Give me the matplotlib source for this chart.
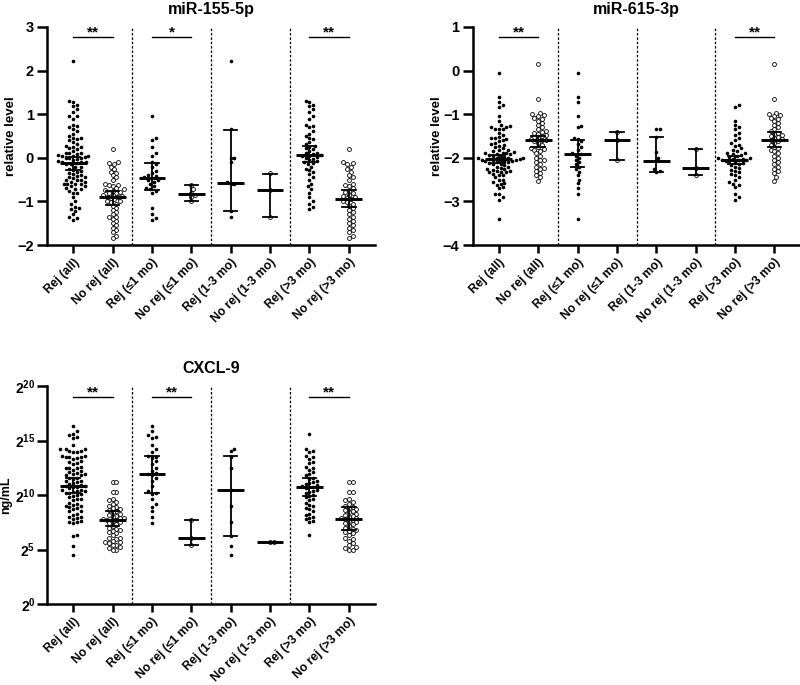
import numpy as np
import matplotlib
matplotlib.use("Agg")
import matplotlib.pyplot as plt
from matplotlib.ticker import FixedLocator, NullLocator

plt.rcParams['font.family'] = ['Liberation Sans', 'DejaVu Sans']
plt.rcParams['font.weight'] = 'bold'
plt.rcParams['mathtext.fontset'] = 'custom'
plt.rcParams['mathtext.rm'] = 'Liberation Sans:bold'
plt.rcParams['mathtext.bf'] = 'Liberation Sans:bold'

groups = ["Rej (all)", "No rej (all)", "Rej (\u22641 mo)", "No rej (\u22641 mo)",
          "Rej (1-3 mo)", "No rej (1-3 mo)", "Rej (>3 mo)", "No rej (>3 mo)"]

# ---- miR-155-5p (relative level) ----
mir155_rej_le1 = [0.95, 0.45, 0.4, 0.25, 0.1, 0.05, -0.1, -0.15, -0.2, -0.3, -0.35, -0.4,
                  -0.42, -0.45, -0.47, -0.5, -0.52, -0.55, -0.6, -0.65, -0.7, -0.72, -0.75,
                  -0.8, -1.15, -1.3, -1.38, -1.42]
mir155_norej_le1 = [-0.63, -0.72, -0.8, -0.85, -0.9, -1.0]
mir155_rej_13 = [2.23, 0.67, 0.0, 0.0, -0.1, -0.55, -0.6, -0.6, -1.22, -1.35]
mir155_norej_13 = [-0.35, -0.73, -1.35]
mir155_rej_gt3 = [1.3, 1.28, 1.22, 1.18, 1.12, 1.05, 0.95, 0.88, 0.76, 0.74, 0.7, 0.62, 0.55,
                  0.5, 0.45, 0.42, 0.36, 0.32, 0.28, 0.25, 0.22, 0.2, 0.15, 0.12, 0.1, 0.08,
                  0.06, 0.05, 0.04, 0.02, 0.0, -0.02, -0.05, -0.08, -0.1, -0.12, -0.15, -0.2,
                  -0.25, -0.28, -0.32, -0.38, -0.45, -0.52, -0.6, -0.65, -0.72, -0.8, -0.9,
                  -0.98, -1.05, -1.12, -1.18]
mir155_norej_gt3 = [0.2, -0.1, -0.12, -0.15, -0.2, -0.25, -0.32, -0.4, -0.45, -0.5, -0.6,
                    -0.62, -0.65, -0.7, -0.75, -0.78, -0.8, -0.85, -0.88, -0.9, -0.93, -0.95,
                    -1.0, -1.02, -1.05, -1.1, -1.15, -1.2, -1.25, -1.3, -1.35, -1.4, -1.45,
                    -1.5, -1.55, -1.6, -1.65, -1.7, -1.8, -1.85]
mir155_med = [-0.13, -0.89, -0.47, -0.84, -0.57, -0.73, 0.06, -0.94]
mir155_hi = [0.02, -0.76, -0.13, -0.63, 0.63, -0.36, 0.27, -0.74]
mir155_lo = [-0.28, -1.08, -0.74, -1.0, -1.22, -1.35, -0.09, -1.12]
mir155_sig = [(0, 1, "**"), (2, 3, "*"), (6, 7, "**")]

# ---- miR-615-3p (relative level) ----
mir615_rej_le1 = [-0.06, -0.6, -0.72, -1.05, -1.27, -1.3, -1.55, -1.58, -1.62, -1.68, -1.75,
                  -1.82, -1.88, -1.92, -1.95, -2.0, -2.05, -2.1, -2.15, -2.2, -2.25, -2.32,
                  -2.4, -2.5, -2.58, -2.7, -2.82, -3.4]
mir615_norej_le1 = [-1.41, -1.6, -2.06]
mir615_rej_13 = [-1.33, -1.35, -1.53, -1.87, -2.0, -2.08, -2.25, -2.3, -2.33]
mir615_norej_13 = [-1.79, -2.24, -2.4]
mir615_rej_gt3 = [-0.8, -0.84, -1.15, -1.25, -1.3, -1.35, -1.42, -1.48, -1.55, -1.6, -1.65,
                  -1.7, -1.72, -1.78, -1.82, -1.85, -1.88, -1.9, -1.92, -1.94, -1.96, -1.98,
                  -2.0, -2.01, -2.02, -2.03, -2.04, -2.05, -2.06, -2.07, -2.08, -2.1, -2.12,
                  -2.14, -2.16, -2.2, -2.23, -2.27, -2.3, -2.33, -2.37, -2.4, -2.45, -2.5,
                  -2.55, -2.6, -2.62, -2.68, -2.82, -2.9, -2.96]
mir615_norej_gt3 = [0.15, -0.64, -0.97, -1.0, -1.02, -1.05, -1.08, -1.1, -1.15, -1.2, -1.25,
                    -1.3, -1.35, -1.38, -1.42, -1.45, -1.48, -1.5, -1.53, -1.55, -1.58, -1.6,
                    -1.62, -1.65, -1.7, -1.75, -1.78, -1.82, -1.85, -1.9, -1.95, -2.0, -2.05,
                    -2.1, -2.15, -2.2, -2.25, -2.3, -2.35, -2.45, -2.53]
mir615_med = [-2.03, -1.6, -1.92, -1.6, -2.08, -2.24, -2.05, -1.59]
mir615_hi = [-1.93, -1.49, -1.6, -1.41, -1.53, -1.79, -1.95, -1.4]
mir615_lo = [-2.13, -1.76, -2.21, -2.06, -2.33, -2.4, -2.14, -1.76]
mir615_sig = [(0, 1, "**"), (6, 7, "**")]

# ---- CXCL-9 (log2 of ng/mL) ----
cxcl9_rej_le1 = [16.3, 15.9, 15.5, 15.3, 15.2, 14.6, 14.2, 13.9, 13.6, 13.5, 13.4, 13.1,
                 12.8, 12.5, 12.2, 12.0, 11.9, 11.8, 11.6, 11.3, 10.8, 10.4, 10.2, 10.1,
                 9.6, 9.2, 8.9, 8.5, 8.0, 7.4]
cxcl9_norej_le1 = [5.46, 6.07, 7.74]
cxcl9_rej_13 = [14.2, 14.0, 13.5, 12.5, 10.43, 9.0, 7.5, 6.22, 5.3, 4.5]
cxcl9_norej_13 = [5.7, 5.7]
cxcl9_rej_gt3 = [15.6, 14.2, 14.0, 13.9, 13.6, 13.5, 13.3, 13.0, 12.9, 12.6, 12.5, 12.3,
                 12.1, 11.9, 11.8, 11.6, 11.5, 11.3, 11.2, 11.1, 11.0, 10.9, 10.8, 10.75,
                 10.7, 10.6, 10.5, 10.4, 10.3, 10.2, 10.0, 9.9, 9.8, 9.6, 9.5, 9.3, 9.1,
                 9.0, 8.8, 8.7, 8.5, 8.3, 8.2, 8.0, 7.9, 7.8, 7.6, 7.5, 6.3]
cxcl9_norej_gt3 = [11.2, 11.2, 10.3, 10.3, 9.6, 9.5, 9.4, 9.2, 9.0, 8.9, 8.8, 8.7, 8.6,
                   8.5, 8.4, 8.3, 8.2, 8.1, 8.0, 7.9, 7.85, 7.8, 7.7, 7.6, 7.5, 7.4, 7.3,
                   7.2, 7.0, 6.9, 6.8, 6.7, 6.6, 6.5, 6.3, 6.1, 6.0, 5.8, 5.6, 5.4, 5.2,
                   5.1, 5.0, 5.0]
cxcl9_med = [10.85, 7.68, 11.92, 6.07, 10.43, 5.7, 10.7, 7.84]
cxcl9_hi = [11.55, 8.5, 13.54, 7.74, 13.54, 5.7, 11.55, 8.87]
cxcl9_lo = [10.18, 7.13, 10.18, 5.46, 6.22, 5.7, 9.88, 6.83]
cxcl9_sig = [(0, 1, "**"), (2, 3, "**"), (6, 7, "**")]


def make_sets(rej_le1, norej_le1, rej_13, norej_13, rej_gt3, norej_gt3):
    rej_all = rej_le1 + rej_13 + rej_gt3
    norej_all = norej_le1 + norej_13 + norej_gt3
    return [rej_all, norej_all, rej_le1, norej_le1, rej_13, norej_13, rej_gt3, norej_gt3]


def swarm_offsets(ax, x0, vals, diam):
    # greedy beeswarm in pixel space
    pts = ax.transData.transform(np.column_stack([np.full(len(vals), x0), vals]))
    ypix = pts[:, 1]
    order = np.argsort(ypix)
    placed = []
    xoff = np.zeros(len(vals))
    for i in order:
        k = 0
        while True:
            cands = [0.0] if k == 0 else [k * diam * 0.5, -k * diam * 0.5]
            ok = None
            for c in cands:
                if all((c - px) ** 2 + (ypix[i] - py) ** 2 >= diam ** 2 for px, py in placed):
                    ok = c
                    break
            if ok is not None:
                xoff[i] = ok
                placed.append((ok, ypix[i]))
                break
            k += 1
    px_per_unit = ax.transData.transform((1, 0))[0] - ax.transData.transform((0, 0))[0]
    return xoff / px_per_unit


def draw_panel(ax, title, sets, med, lo, hi, sig, ylim, sig_y, star_y, log2=False):
    ax.set_xlim(-0.66, 7.67)
    if log2:
        ax.set_yscale('log', base=2)
    ax.set_ylim(*ylim)
    for i, vals in enumerate(sets):
        v = np.array(vals, dtype=float)
        if log2:
            v = 2.0 ** v
        off = swarm_offsets(ax, i, v, 3.8)
        if i % 2 == 0:
            ax.plot(i + off, v, 'o', ms=2.6, color='black', mew=0, zorder=3)
        else:
            ax.plot(i + off, v, 'o', ms=2.8, mfc='white', mec='black', mew=0.6, zorder=3)
        m, l, h = med[i], lo[i], hi[i]
        if log2:
            m, l, h = 2.0 ** m, 2.0 ** l, 2.0 ** h
        ax.plot([i - 0.34, i + 0.34], [m, m], color='black', lw=2.1, zorder=4,
                solid_capstyle='butt')
        if h != l:
            ax.plot([i, i], [l, h], color='black', lw=1.3, zorder=4)
            ax.plot([i - 0.17, i + 0.17], [h, h], color='black', lw=1.3, zorder=4)
            ax.plot([i - 0.17, i + 0.17], [l, l], color='black', lw=1.3, zorder=4)
    for xd in (1.5, 3.5, 5.5):
        ax.axvline(xd, color='black', lw=0.9, ls=(0, (2.0, 1.5)), zorder=1)
    for a, b, s in sig:
        ax.plot([a, b], [sig_y, sig_y], color='black', lw=1.0)
        ax.text((a + b) / 2, star_y, s, ha='center', va='center', fontsize=11,
                fontweight='bold')
    ax.set_title(title, fontsize=11.5, fontweight='bold', pad=9)
    ax.spines['top'].set_visible(False)
    ax.spines['right'].set_visible(False)
    ax.spines['left'].set_linewidth(1.8)
    ax.spines['bottom'].set_linewidth(1.8)
    ax.set_xticks(range(len(groups)))
    ax.set_xticklabels(groups, rotation=45, ha='right', rotation_mode='anchor',
                       fontsize=8.7, fontweight='bold')
    ax.tick_params(axis='x', length=6, width=1.8, pad=2)
    ax.tick_params(axis='y', length=7, width=1.8, labelsize=10.5, pad=2.5)
    for lab in ax.get_yticklabels():
        lab.set_fontweight('bold')


fig = plt.figure(figsize=(8, 6.85), dpi=100)
ax1 = fig.add_axes([0.059, 0.6423, 0.41, 0.3183])
ax2 = fig.add_axes([0.591, 0.6423, 0.41, 0.3183])
ax3 = fig.add_axes([0.059, 0.1182, 0.41, 0.3183])

draw_panel(ax1, "miR-155-5p",
           make_sets(mir155_rej_le1, mir155_norej_le1, mir155_rej_13, mir155_norej_13,
                     mir155_rej_gt3, mir155_norej_gt3),
           mir155_med, mir155_lo, mir155_hi, mir155_sig, (-2, 3), 2.77, 2.88)
ax1.set_yticks([-2, -1, 0, 1, 2, 3])
ax1.set_ylabel("relative level", fontsize=9.5, fontweight='bold')
ax1.yaxis.set_label_coords(-0.092, 0.5)

draw_panel(ax2, "miR-615-3p",
           make_sets(mir615_rej_le1, mir615_norej_le1, mir615_rej_13, mir615_norej_13,
                     mir615_rej_gt3, mir615_norej_gt3),
           mir615_med, mir615_lo, mir615_hi, mir615_sig, (-4, 1), 0.77, 0.88)
ax2.set_yticks([-4, -3, -2, -1, 0, 1])
ax2.set_ylabel("relative level", fontsize=9.5, fontweight='bold')
ax2.yaxis.set_label_coords(-0.092, 0.5)

draw_panel(ax3, "CXCL-9",
           make_sets(cxcl9_rej_le1, cxcl9_norej_le1, cxcl9_rej_13, cxcl9_norej_13,
                     cxcl9_rej_gt3, cxcl9_norej_gt3),
           cxcl9_med, cxcl9_lo, cxcl9_hi, cxcl9_sig, (1, 2 ** 20), 2 ** 19.0, 2 ** 19.4,
           log2=True)
exps = [0, 5, 10, 15, 20]
ax3.yaxis.set_major_locator(FixedLocator([2.0 ** e for e in exps]))
ax3.yaxis.set_minor_locator(NullLocator())
ax3.set_yticklabels([r'$\mathbf{2^{%d}}$' % e for e in exps], fontsize=10)
ax3.tick_params(axis='y', pad=1.5)
ax3.set_ylabel("ng/mL", fontsize=9, fontweight='bold')
ax3.yaxis.set_label_coords(-0.107, 0.5)

fig.savefig("out.png", dpi=100)
